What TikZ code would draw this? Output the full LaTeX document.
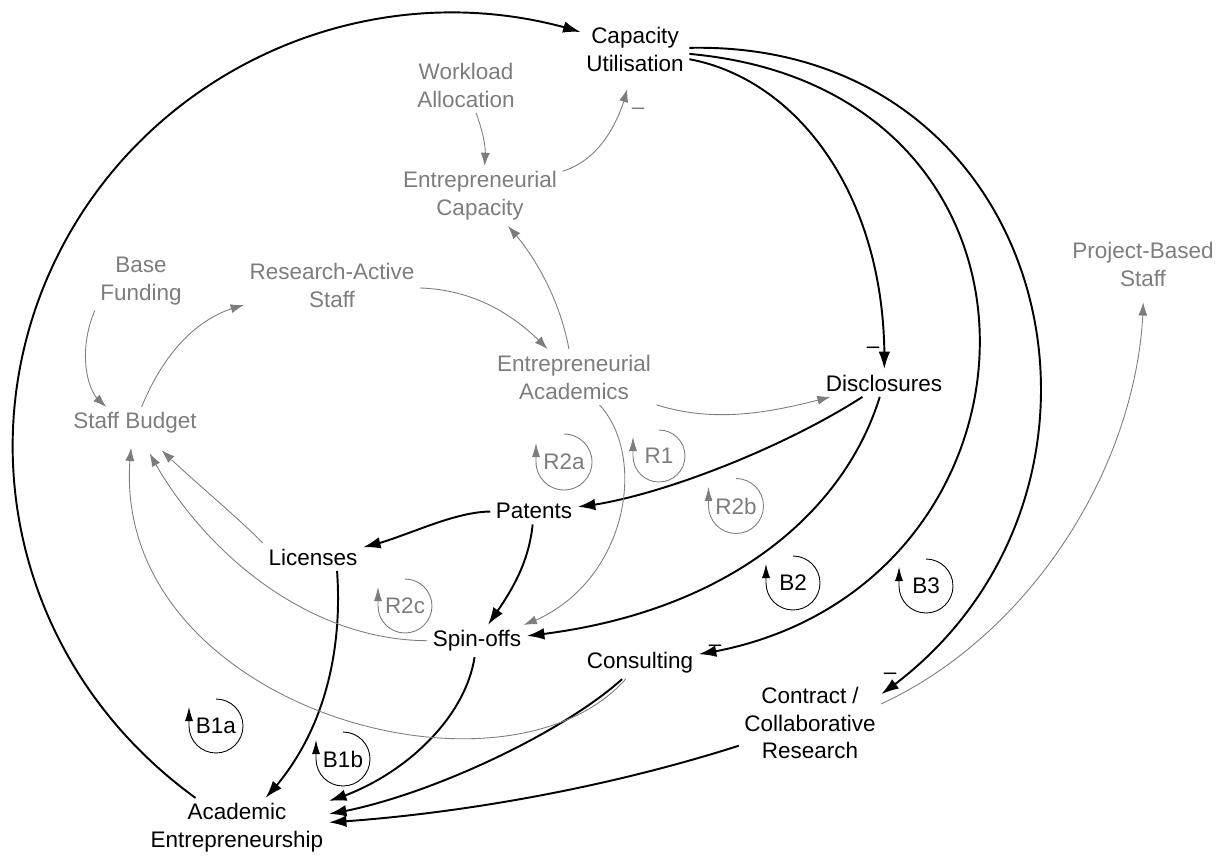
\documentclass[tikz,border=0pt]{standalone}
\usepackage{fontspec}
\setmainfont{Liberation Sans}
\usetikzlibrary{arrows.meta,bending}

\definecolor{auxgray}{RGB}{125,125,125}

\tikzset{
  varnode/.style={align=center, inner sep=3pt, font=\fontsize{12.8}{15.9}\selectfont},
  auxnode/.style={varnode, text=auxgray},
  flow/.style={-{Latex[length=10pt,width=6.6pt]}, line width=1.1pt},
  auxflow/.style={-{Latex[length=7.5pt,width=5.2pt]}, line width=0.5pt, draw=auxgray},
  loopname/.style={inner sep=0pt, font=\fontsize{12.8}{15.9}\selectfont},
  auxloopname/.style={loopname, text=auxgray},
  looparc/.style={-{Latex[length=8pt,width=4.6pt]}, line width=0.5pt},
  polsign/.style={inner sep=0pt, font=\fontsize{12.8}{15.9}\selectfont},
}

\begin{document}
\begin{tikzpicture}[x=0.02cm, y=-0.02cm]
\useasboundingbox (0,0) rectangle (1226,855);

% main variables
\node[varnode] (capu) at (635,49) {Capacity\\Utilisation};
\node[varnode] (discl) at (884,383) {Disclosures};
\node[varnode] (pat) at (534,511) {Patents};
\node[varnode] (lic) at (313,557) {Licenses};
\node[varnode] (spin) at (477,641) {Spin-offs};
\node[varnode] (cons) at (640,663) {Consulting};
\node[varnode] (ccr) at (810,723) {Contract /\\Collaborative\\Research};
\node[varnode] (ae) at (237,828) {Academic\\Entrepreneurship};

% grey variables
\node[auxnode] (wla) at (466,85) {Workload\\Allocation};
\node[auxnode] (ecap) at (480,196) {Entrepreneurial\\Capacity};
\node[auxnode] (bf) at (141,281) {Base\\Funding};
\node[auxnode] (ras) at (332,285) {Research-Active\\Staff};
\node[auxnode] (pbs) at (1143,264) {Project-Based\\Staff};
\node[auxnode] (eacad) at (574,377) {Entrepreneurial\\Academics};
\node[auxnode] (sb) at (135,423) {Staff Budget};

% black links
\draw[flow] (ae) .. controls (15,667) and (-36,436) .. (61,249)
  .. controls (158,62) and (379,-31) .. (capu);
\draw[flow] (capu) .. controls (800,80) and (888,200) .. (discl);
\draw[flow] (capu) .. controls (1090,90) and (1060,600) .. (cons);
\draw[flow] (capu) .. controls (1060,40) and (1160,500) .. (ccr.22);
\draw[flow] (discl) .. controls (780,450) and (650,500) .. (pat);
\draw[flow] (discl) .. controls (845,510) and (730,615) .. (spin);
\draw[flow] (pat) .. controls (450,512) and (400,540) .. (lic);
\draw[flow] (pat) .. controls (528,570) and (505,600) .. (spin);
\draw[flow] (lic.-30) .. controls (342,640) and (330,730) .. (ae);
\draw[flow] (spin) .. controls (465,720) and (400,780) .. (ae);
\draw[flow] (cons) .. controls (560,735) and (420,800) .. (ae);
\draw[flow] (ccr) .. controls (600,790) and (450,815) .. (ae);

% grey links
\draw[auxflow] (wla) .. controls (484,135) and (487,150) .. (ecap);
\draw[auxflow, shorten >=7pt] (ecap) .. controls (600,160) and (622,120) .. (capu);
\draw[auxflow] (eacad) .. controls (560,300) and (535,255) .. (ecap);
\draw[auxflow] (bf.south west) .. controls (78,350) and (85,395) .. (sb);
\draw[auxflow] (sb) .. controls (165,350) and (200,315) .. (ras);
\draw[auxflow] (ras) .. controls (480,290) and (520,320) .. (eacad);
\draw[auxflow] (eacad.south east) .. controls (720,425) and (780,410) .. (discl);
\draw[auxflow] (eacad) .. controls (650,460) and (625,590) .. (spin);
\draw[auxflow, shorten >=9pt] (lic.north west) .. controls (230,510) and (180,470) .. (sb);
\draw[auxflow, shorten >=9pt] (spin) .. controls (300,640) and (190,540) .. (sb);
\draw[auxflow, shorten >=5pt] (cons) .. controls (500,820) and (90,700) .. (sb);
\draw[auxflow, shorten >=6pt] (ccr.15) .. controls (1040,630) and (1145,450) .. (pbs);

% polarity
\node[polsign, text=auxgray] (m1) at (638,111) {--};
\node[polsign] (m2) at (873,350) {--};
\node[polsign] (m3) at (715,648) {--};
\node[polsign] (m4) at (890,676) {--};

% loops
\node[auxloopname] (r2a) at (564,462) {R2a};
\draw[looparc, draw=auxgray] (r2a.center) ++(90:0.56cm) arc[start angle=90, end angle=-180, radius=0.56cm] -- ++(0,-19);
\node[auxloopname] (r1) at (659,456) {R1};
\draw[looparc, draw=auxgray] (r1.center) ++(90:0.52cm) arc[start angle=90, end angle=-180, radius=0.52cm] -- ++(0,-19);
\node[auxloopname] (r2b) at (736,506) {R2b};
\draw[looparc, draw=auxgray] (r2b.center) ++(90:0.55cm) arc[start angle=90, end angle=-180, radius=0.55cm] -- ++(0,-19);
\node[auxloopname] (r2c) at (405,606) {R2c};
\draw[looparc, draw=auxgray] (r2c.center) ++(90:0.54cm) arc[start angle=90, end angle=-180, radius=0.54cm] -- ++(0,-19);
\node[loopname] (b2) at (793,583) {B2};
\draw[looparc] (b2.center) ++(90:0.54cm) arc[start angle=90, end angle=-180, radius=0.54cm] -- ++(0,-19);
\node[loopname] (b3) at (926,586) {B3};
\draw[looparc] (b3.center) ++(90:0.54cm) arc[start angle=90, end angle=-180, radius=0.54cm] -- ++(0,-19);
\node[loopname] (b1a) at (216,726) {B1a};
\draw[looparc] (b1a.center) ++(90:0.54cm) arc[start angle=90, end angle=-180, radius=0.54cm] -- ++(0,-19);
\node[loopname] (b1b) at (343,759) {B1b};
\draw[looparc] (b1b.center) ++(90:0.54cm) arc[start angle=90, end angle=-180, radius=0.54cm] -- ++(0,-19);
\end{tikzpicture}
\end{document}
